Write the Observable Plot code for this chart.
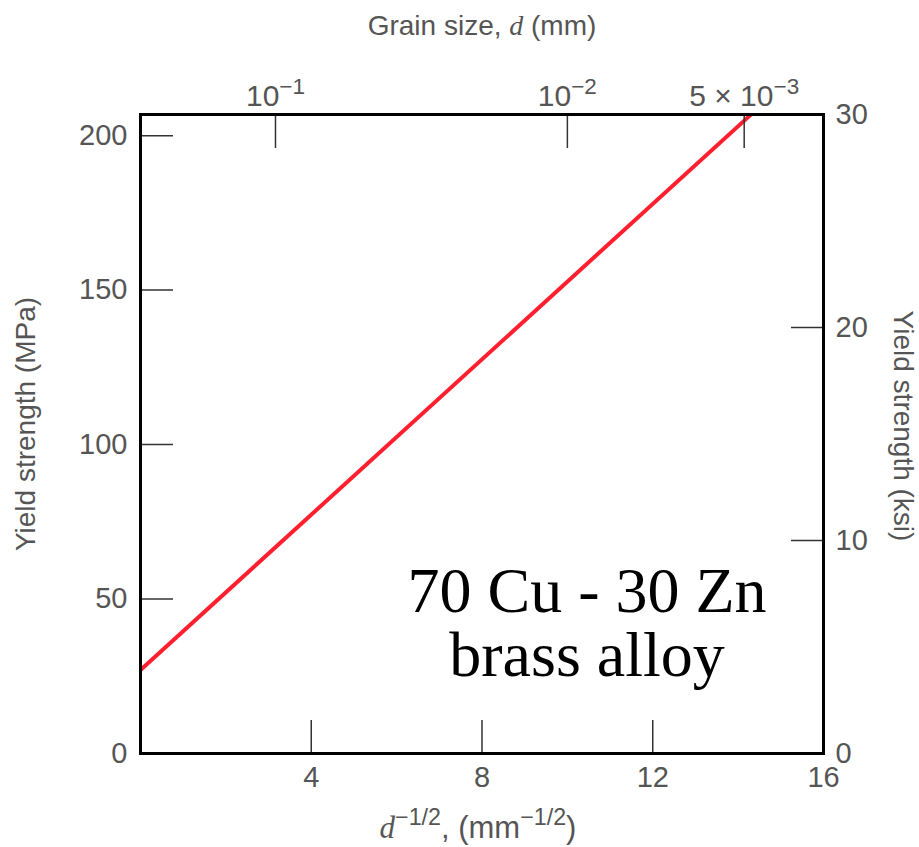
<!DOCTYPE html>
<html><head><meta charset="utf-8">
<script src="https://cdn.jsdelivr.net/npm/d3@7"></script>
<script src="https://cdn.jsdelivr.net/npm/@observablehq/plot@0.6"></script>
<style>body{margin:0;background:#fff}</style>
</head><body><div id="chart"></div>
<script>
// Data
const invSqrtD = [0, 14.3];          // d^-1/2 (mm^-1/2)
const yieldMPa = [27, 206.8];        // yield strength (MPa)
const xTicks = [4, 8, 12, 16];
const mpaTicks = [0, 50, 100, 150, 200];
const ksiTicks = [0, 10, 20, 30];
const grainSizes = [0.1, 0.01, 0.005];   // mm
const grainLabels = ["10^{−1}", "10^{−2}", "5 × 10^{−3}"];
const annotationLines = ["70 Cu - 30 Zn", "brass alloy"];
const MPA_PER_KSI = 6.894757;

const lineData = invSqrtD.map((x, i) => ({x, y: yieldMPa[i]}));
const topTickPos = grainSizes.map(d => 1 / Math.sqrt(d));

const axisStyle = {stroke: "#333", fill: "#555", strokeWidth: 1.5, label: null};

const chart = Plot.plot({
  width: 919,
  height: 847,
  marginLeft: 140,
  marginRight: 96,
  marginTop: 114,
  marginBottom: 94,
  style: {fontFamily: "'Liberation Sans', Arial, sans-serif", fontSize: "29px", background: "#fff"},
  x: {domain: [0, 16]},
  y: {domain: [0, 30 * MPA_PER_KSI]},
  marks: [
    Plot.line(lineData, {x: "x", y: "y", stroke: "#ff1f2e", strokeWidth: 4, clip: true}),
    Plot.axisY(mpaTicks, {anchor: "left", tickSize: -33, tickPadding: 46, ...axisStyle}),
    Plot.axisY(ksiTicks.map(k => k * MPA_PER_KSI), {anchor: "right", tickSize: -33, tickPadding: 45,
      tickFormat: v => String(Math.round(v / MPA_PER_KSI)), ...axisStyle}),
    Plot.axisX(xTicks, {anchor: "bottom", tickSize: -33, tickPadding: 46, ...axisStyle}),
    Plot.axisX(topTickPos, {anchor: "top", tickSize: -33, tickPadding: 42, fontSize: 30,
      tickFormat: v => grainLabels[topTickPos.indexOf(v)], ...axisStyle}),
    Plot.frame({stroke: "#000", strokeWidth: 3}),
    Plot.text(["Grain size, *d* (mm)"], {text: d => d, frameAnchor: "top", dy: -88, lineAnchor: "middle", fontSize: 28, fill: "#555"}),
    Plot.text(["*d*^{−1/2}, (mm^{−1/2})"], {text: d => d, frameAnchor: "bottom", dy: 75, dx: -4, lineAnchor: "middle", fontSize: 31, fill: "#555"}),
    Plot.text(["Yield strength (MPa)"], {text: d => d, frameAnchor: "left", textAnchor: "middle", dx: -114, dy: -10, rotate: -90, lineAnchor: "middle", fontSize: 28, fill: "#555"}),
    Plot.text(["Yield strength (ksi)"], {text: d => d, frameAnchor: "right", textAnchor: "middle", dx: 79, dy: -8, rotate: 90, lineAnchor: "middle", fontSize: 28, fill: "#555"}),
    Plot.text([annotationLines.join("\n")], {text: d => d, frameAnchor: "bottom", dx: 105, dy: -78, lineAnchor: "bottom", lineHeight: 1, fontSize: 64, fill: "#000", fontFamily: "'Liberation Serif', 'Times New Roman', serif"})
  ]
});

// Render simple markup: *italic* and ^{superscript}
function applyMarkup(svg) {
  svg.querySelectorAll("text").forEach(t => {
    const nodes = t.querySelectorAll("tspan").length ? Array.from(t.querySelectorAll("tspan")) : [t];
    nodes.forEach(node => {
      const s = node.textContent;
      if (!/\*|\^\{/.test(s)) return;
      node.textContent = "";
      const parts = s.split(/(\*[^*]+\*|\^\{[^}]*\})/).filter(p => p);
      const ns = "http://www.w3.org/2000/svg";
      parts.forEach(p => {
        const ts = document.createElementNS(ns, "tspan");
        if (p.startsWith("*")) {
          ts.textContent = p.slice(1, -1);
          ts.setAttribute("font-family", "'Liberation Serif', serif");
          ts.setAttribute("font-style", "italic");
        } else if (p.startsWith("^{")) {
          ts.textContent = p.slice(2, -1);
          ts.setAttribute("font-size", "75%");
          ts.setAttribute("baseline-shift", "super");
        } else {
          ts.textContent = p;
        }
        node.appendChild(ts);
      });
    });
  });
}
applyMarkup(chart);
document.getElementById("chart").appendChild(chart);
</script>
</body></html>
